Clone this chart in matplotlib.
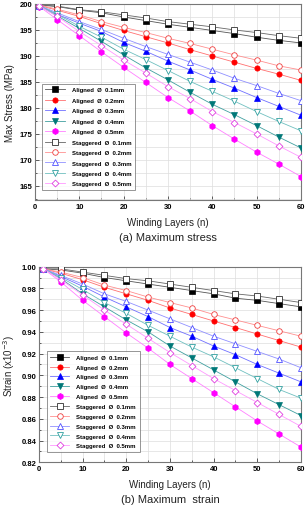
import matplotlib
matplotlib.use("Agg")
import matplotlib.pyplot as plt
from matplotlib.ticker import MultipleLocator, FormatStrFormatter

plt.rcParams['font.family'] = ['Liberation Sans', 'DejaVu Sans']

layers = [1, 5, 10, 15, 20, 25, 30, 35, 40, 45, 50, 55, 60]

# (a) Maximum stress (MPa)
stress_aligned_01 = [199.8, 199.5, 198.8, 198.3, 197.5, 196.8, 196.1, 195.5, 194.9, 194.3, 193.6, 193.0, 192.5]
stress_aligned_02 = [199.7, 198.8, 197.6, 196.2, 194.9, 193.7, 192.5, 191.2, 190.0, 188.8, 187.6, 186.5, 185.3]
stress_aligned_03 = [199.6, 198.0, 196.3, 194.7, 192.6, 190.9, 189.0, 187.3, 185.5, 183.8, 182.0, 180.3, 178.6]
stress_aligned_04 = [199.6, 197.7, 195.3, 192.8, 190.2, 187.7, 185.4, 183.0, 180.7, 178.7, 176.6, 174.4, 172.3]
stress_aligned_05 = [199.5, 197.0, 193.9, 190.8, 187.8, 184.9, 182.0, 179.4, 176.6, 174.0, 171.5, 169.2, 166.8]
stress_stag_01 = [199.8, 199.6, 198.9, 198.5, 197.9, 197.3, 196.6, 196.1, 195.6, 195.0, 194.5, 193.9, 193.4]
stress_stag_02 = [199.8, 199.0, 197.9, 196.6, 195.5, 194.5, 193.4, 192.4, 191.3, 190.2, 189.2, 188.1, 187.3]
stress_stag_03 = [199.7, 198.3, 196.6, 195.1, 193.4, 191.8, 190.3, 188.8, 187.3, 185.7, 184.3, 182.8, 181.4]
stress_stag_04 = [199.7, 198.0, 195.7, 193.6, 191.3, 189.3, 187.2, 185.1, 183.2, 181.3, 179.3, 177.4, 175.6]
stress_stag_05 = [199.6, 197.6, 194.7, 192.0, 189.2, 186.7, 184.1, 181.8, 179.3, 177.2, 175.0, 172.7, 170.5]

# (b) Maximum strain (x10^-3)
strain_aligned_01 = [0.998, 0.997, 0.994, 0.990, 0.987, 0.984, 0.981, 0.978, 0.975, 0.971, 0.969, 0.966, 0.963]
strain_aligned_02 = [0.998, 0.994, 0.988, 0.981, 0.975, 0.969, 0.962, 0.956, 0.950, 0.944, 0.938, 0.932, 0.926]
strain_aligned_03 = [0.998, 0.991, 0.982, 0.972, 0.963, 0.954, 0.944, 0.936, 0.927, 0.919, 0.910, 0.902, 0.894]
strain_aligned_04 = [0.998, 0.989, 0.975, 0.963, 0.951, 0.940, 0.927, 0.916, 0.905, 0.894, 0.883, 0.873, 0.863]
strain_aligned_05 = [0.998, 0.986, 0.969, 0.954, 0.939, 0.925, 0.910, 0.897, 0.884, 0.871, 0.858, 0.846, 0.834]
strain_stag_01 = [0.998, 0.998, 0.995, 0.992, 0.989, 0.987, 0.984, 0.981, 0.978, 0.975, 0.973, 0.970, 0.967]
strain_stag_02 = [0.998, 0.995, 0.990, 0.983, 0.978, 0.972, 0.967, 0.962, 0.956, 0.951, 0.946, 0.941, 0.936]
strain_stag_03 = [0.998, 0.992, 0.984, 0.975, 0.968, 0.960, 0.952, 0.944, 0.936, 0.929, 0.922, 0.915, 0.907]
strain_stag_04 = [0.998, 0.990, 0.979, 0.967, 0.957, 0.946, 0.936, 0.926, 0.917, 0.907, 0.897, 0.887, 0.879]
strain_stag_05 = [0.998, 0.988, 0.974, 0.960, 0.947, 0.934, 0.921, 0.909, 0.897, 0.886, 0.875, 0.864, 0.853]

labels_aligned = ["Aligned  Ø  0.1mm", "Aligned  Ø  0.2mm", "Aligned  Ø  0.3mm",
                  "Aligned  Ø  0.4mm", "Aligned  Ø  0.5mm"]
labels_stag = ["Staggered  Ø  0.1mm", "Staggered  Ø  0.2mm", "Staggered  Ø  0.3mm",
               "Staggered  Ø  0.4mm", "Staggered  Ø  0.5mm"]

col_aligned = ['#000000', '#ff0000', '#0000ff', '#007878', '#ff00ff']
line_aligned = ['#555555', '#ff7070', '#7070ff', '#40a0a0', '#ff80ff']
mk_aligned = ['s', 'o', '^', 'v', 'h']
col_stag = ['#303030', '#f04040', '#5050ff', '#30a0a0', '#e040e0']
line_stag = ['#666666', '#ff9090', '#9090ff', '#70c0c0', '#ff99ff']
mk_stag = ['s', 'o', '^', 'v', 'D']

fig = plt.figure(figsize=(3.08, 5.06), dpi=100)
ax1 = fig.add_axes([0.1136, 0.6028, 0.8636, 0.3874])
ax2 = fig.add_axes([0.1266, 0.0844, 0.8506, 0.3866])


def draw(ax, aligned, stag, ylim, ymaj, ymin, fmt, ylabel, caption, leg_anchor, lspace):
    for i, ys in enumerate(aligned):
        ax.plot(layers, ys, color=line_aligned[i], lw=0.6, marker=mk_aligned[i],
                ms=3.8 if mk_aligned[i] != 'h' else 4.4, mfc=col_aligned[i], mec=col_aligned[i],
                mew=0.5, label=labels_aligned[i], zorder=3)
    for i, ys in enumerate(stag):
        ax.plot(layers, ys, color=line_stag[i], lw=0.6, marker=mk_stag[i],
                ms=4.0 if mk_stag[i] != 'D' else 3.5, mfc='white', mec=col_stag[i],
                mew=0.6, label=labels_stag[i], zorder=3)
    ax.set_xlim(0, 60)
    ax.set_ylim(*ylim)
    ax.xaxis.set_major_locator(MultipleLocator(10))
    ax.xaxis.set_minor_locator(MultipleLocator(5))
    ax.yaxis.set_major_locator(MultipleLocator(ymaj))
    ax.yaxis.set_minor_locator(MultipleLocator(ymin))
    ax.yaxis.set_major_formatter(FormatStrFormatter(fmt))
    ax.grid(True, which='both', color='#dddddd', lw=0.5, zorder=0)
    ax.set_axisbelow(True)
    ax.tick_params(which='both', direction='in', labelsize=5.5, width=0.6, color='#444444', pad=2)
    ax.tick_params(which='major', length=3)
    ax.tick_params(which='minor', length=1.6)
    for lab in ax.get_xticklabels() + ax.get_yticklabels():
        lab.set_fontweight('bold')
    for s in ax.spines.values():
        s.set_color('#777777')
        s.set_linewidth(0.8)
    ax.set_xlabel("Winding Layers (n)", fontsize=7, labelpad=5, color='#222222')
    ax.set_ylabel(ylabel, fontsize=7, labelpad=3, color='#222222')
    leg = ax.legend(loc='lower left', bbox_to_anchor=leg_anchor,
                    prop={'size': 4.3, 'weight': 'bold'}, frameon=True, fancybox=False,
                    edgecolor='#666666', handlelength=3.2, labelspacing=lspace,
                    borderpad=0.6, handletextpad=1.2, borderaxespad=0)
    leg.get_frame().set_linewidth(0.6)
    ax.text(0.5, caption[1], caption[0], transform=ax.transAxes, ha='center', va='center',
            fontsize=8, color='#222222')


draw(ax1,
     [stress_aligned_01, stress_aligned_02, stress_aligned_03, stress_aligned_04, stress_aligned_05],
     [stress_stag_01, stress_stag_02, stress_stag_03, stress_stag_04, stress_stag_05],
     (162.3, 200), 5, 2.5, '%d', "Max Stress (MPa)", ("(a) Maximum stress", -0.19), (0.026, 0.051), 0.88)

draw(ax2,
     [strain_aligned_01, strain_aligned_02, strain_aligned_03, strain_aligned_04, strain_aligned_05],
     [strain_stag_01, strain_stag_02, strain_stag_03, strain_stag_04, strain_stag_05],
     (0.82, 1.00), 0.02, 0.01, '%.2f', r"Strain (x10$^{-3}$)", ("(b) Maximum  strain", -0.19), (0.029, 0.053), 0.78)

fig.savefig("out.png", dpi=100)
